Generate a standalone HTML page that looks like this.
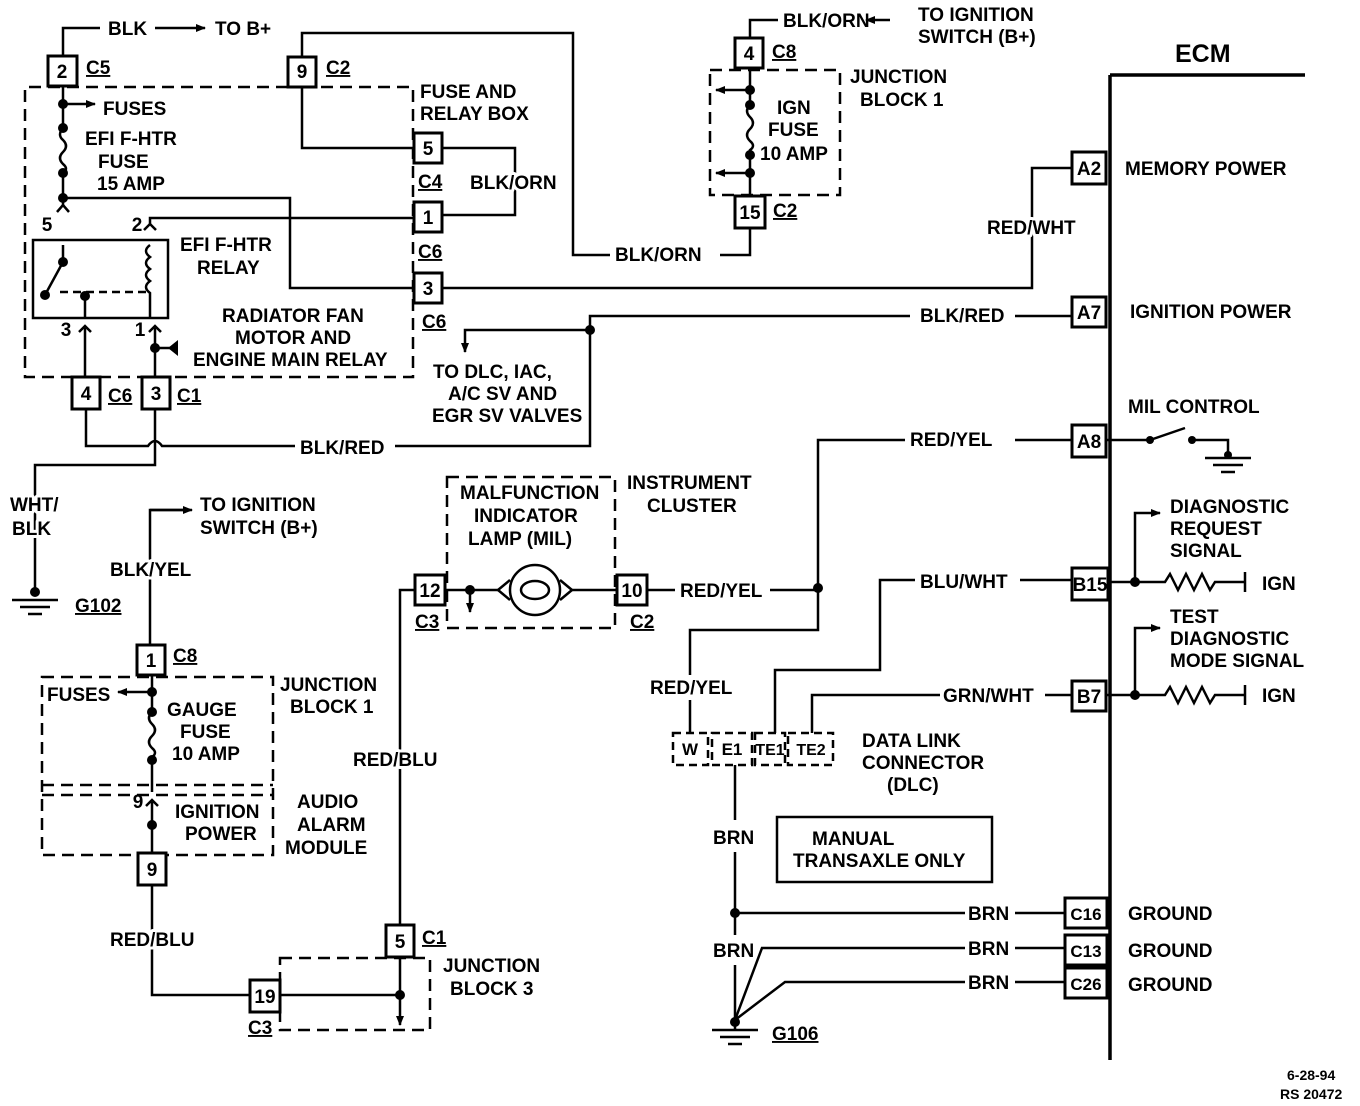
<!DOCTYPE html>
<html><head><style>
html,body{margin:0;padding:0;background:#fff}
svg{display:block}
text{font-family:"Liberation Sans",sans-serif;font-weight:bold;font-size:19px;fill:#000}
.h{stroke:#fff;stroke-width:6px;paint-order:stroke;stroke-linejoin:round}
.u{text-decoration:underline}
</style></head><body>
<svg width="1360" height="1106" viewBox="0 0 1360 1106" xmlns="http://www.w3.org/2000/svg">
<defs>
<marker id="ar" markerWidth="10" markerHeight="8" refX="9" refY="4" orient="auto" markerUnits="userSpaceOnUse"><path d="M0,0 L10,4 L0,8 z" fill="#000"/></marker>
</defs>
<g stroke="#000" stroke-width="2.5" fill="none">
<path d="M1110 75 V1060 M1110 75 H1305" stroke-width="3.5"/>
<path d="M63 55 V28 H100"/>
<path d="M155 28 H205" marker-end="url(#ar)"/>
<path d="M302 57 V33 H573 V255 H610"/>
<path d="M302 87 V148 H414"/>
<path d="M442 148 H515 V215 H442"/>
<path d="M288 87 H25 V377 H413 V87 H316" stroke-dasharray="12,7"/>
<path d="M63 87 V128"/>
<path d="M63 104 H95" marker-end="url(#ar)"/>
<path d="M63 128 q-6 7 0 12 q6 6 0 12 q-6 6 0 12 q6 5 0 9 V205"/>
<path d="M63 198 H290 V288 H414"/>
<path d="M150 225 V218 H414"/>
<path d="M57 212 L63 205 L69 212 M144 230 L150 224 L156 230"/>
<rect x="33" y="240" width="135" height="78"/>
<path d="M45 295 L63 262 M150 245 q-8 6 0 12 q-8 6 0 12 q-8 6 0 12 q-8 6 0 12 V318" />
<path d="M63 245 V262 M85 298 V318" />
<path d="M60 292 H150" stroke-dasharray="8,5"/>
<path d="M79 332 L85 326 L91 332 M149 332 L155 326 L161 332"/>
<path d="M85 328 V377 M155 328 V377"/>
<path d="M155 348 H178" />
<path d="M86 409 V446 H148 q7 -10 14 0 H295 M395 446 H590 V316 H910 M1015 316 H1072"/>
<path d="M590 330 H465 V352" marker-end="url(#ar)"/>
<path d="M155 409 V465 H35 V590"/>
<path d="M442 288 H1032 V168 H1072"/>
<path d="M720 255 H750 V228"/>
<path d="M750 38 V20 H778"/>
<path d="M890 20 H866" marker-end="url(#ar)"/>
<path d="M710 70 H840 V195 H710 Z" stroke-dasharray="12,7"/>
<path d="M750 68 V105 q-6 6 0 12 q6 6 0 12 q-6 6 0 12 q6 5 0 9 V196"/>
<path d="M750 90 H716" marker-end="url(#ar)"/>
<path d="M750 173 H716" marker-end="url(#ar)"/>
<path d="M190 510 H150 V645"/>
<path d="M150 510 H192" marker-end="url(#ar)"/>
<path d="M42 677 H273 V855 H42 Z" stroke-dasharray="12,7"/>
<path d="M42 785 H273 M42 795 H273" stroke-dasharray="12,7"/>
<path d="M152 675 V712 q-6 6 0 12 q6 6 0 12 q-6 6 0 12 q6 5 0 9 V792 M146 806 L152 800 L158 806 M152 802 V853"/>
<path d="M152 692 H118" marker-end="url(#ar)"/>
<path d="M152 885 V995 H250"/>
<path d="M280 995 H400"/>
<path d="M280 958 H430 V1030 H280 Z" stroke-dasharray="12,7"/>
<path d="M400 957 V1025" marker-end="url(#ar)"/>
<path d="M400 925 V590 H417"/>
<path d="M447 477 H615 V628 H447 Z" stroke-dasharray="12,7"/>
<path d="M445 590 H498 M572 590 H617"/>
<path d="M470 590 V612" marker-end="url(#ar)"/>
<circle cx="535" cy="590" r="25"/>
<path d="M498 590 l12 -10 M498 590 l12 10 M572 590 l-12 -10 M572 590 l-12 10"/>
<ellipse cx="535" cy="590" rx="14" ry="9"/>
<path d="M647 590 H675 M770 590 H818 V440 H905 M1015 440 H1072"/>
<path d="M818 590 V630 H690 V675 M690 700 V733"/>
<path d="M673 733 H708 V765 H673 Z M712 733 H752 V765 H712 Z M755 733 H785 V765 H755 Z M788 733 H833 V765 H788 Z" stroke-dasharray="8,5"/>
<path d="M775 733 V670 H880 V580 H915 M1020 580 H1072"/>
<path d="M812 733 V695 H940 M1045 695 H1072"/>
<path d="M735 765 V820 M735 852 V935 M735 965 V1020 M735 913 H965 M1015 913 H1065"/>
<path d="M735 1020 L762 948 H965 M1015 948 H1065 M735 1020 L785 982 H965 M1015 982 H1065"/>
<rect x="777" y="817" width="215" height="65"/>
<path d="M12 600 H58 M20 607 H50 M28 614 H42"/>
<path d="M712 1030 H758 M720 1037 H750 M728 1044 H742 M735 1020 V1030"/>
<path d="M1106 440 H1150 L1185 428 M1192 440 H1228 V455 M1205 458 H1251 M1213 465 H1243 M1221 472 H1235"/>
<path d="M1106 582 H1165 l5 -8 l8 16 l8 -16 l8 16 l8 -16 l8 16 l5 -8 H1245 M1245 572 V592"/>
<path d="M1135 582 V513 H1160" marker-end="url(#ar)"/>
<path d="M1106 695 H1165 l5 -8 l8 16 l8 -16 l8 16 l8 -16 l8 16 l5 -8 H1245 M1245 685 V705"/>
<path d="M1135 695 V628 H1160" marker-end="url(#ar)"/>
</g>
<g fill="#000">
<circle cx="63" cy="104" r="5"/><circle cx="63" cy="128" r="5"/><circle cx="63" cy="173" r="5"/><circle cx="63" cy="198" r="5"/>
<circle cx="63" cy="262" r="5"/><circle cx="45" cy="295" r="5"/><circle cx="85" cy="296" r="5"/>
<circle cx="155" cy="348" r="5"/><path d="M178 340 L168 348 L178 356 Z"/>
<circle cx="590" cy="330" r="5"/>
<circle cx="750" cy="90" r="5"/><circle cx="750" cy="105" r="5"/><circle cx="750" cy="155" r="5"/><circle cx="750" cy="173" r="5"/>
<circle cx="152" cy="692" r="5"/><circle cx="152" cy="712" r="5"/><circle cx="152" cy="760" r="5"/><circle cx="152" cy="825" r="5"/>
<circle cx="400" cy="995" r="5"/><circle cx="470" cy="590" r="5"/><circle cx="818" cy="588" r="5"/>
<circle cx="735" cy="913" r="5"/><circle cx="735" cy="1022" r="5"/><circle cx="35" cy="592" r="5"/>
<circle cx="1150" cy="440" r="4"/><circle cx="1192" cy="440" r="4"/><circle cx="1228" cy="455" r="4"/>
<circle cx="1135" cy="582" r="5"/><circle cx="1135" cy="695" r="5"/>
</g>
<g stroke="#000" stroke-width="3" fill="#fff">
<rect x="48" y="56" width="29" height="30"/><rect x="288" y="57" width="28" height="30"/>
<rect x="414" y="133" width="28" height="30"/><rect x="414" y="202" width="28" height="30"/><rect x="414" y="273" width="28" height="30"/>
<rect x="72" y="377" width="28" height="32"/><rect x="142" y="377" width="28" height="32"/>
<rect x="735" y="38" width="28" height="30"/><rect x="735" y="196" width="30" height="32"/>
<rect x="137" y="645" width="28" height="30"/><rect x="138" y="853" width="28" height="32"/>
<rect x="386" y="925" width="28" height="32"/><rect x="250" y="980" width="30" height="32"/>
<rect x="415" y="575" width="30" height="30"/><rect x="617" y="575" width="30" height="30"/>
<rect x="1072" y="152" width="34" height="32"/><rect x="1072" y="297" width="34" height="30"/><rect x="1072" y="425" width="34" height="32"/>
<rect x="1072" y="568" width="36" height="32"/><rect x="1072" y="681" width="34" height="30"/>
<rect x="1065" y="898" width="42" height="30"/><rect x="1065" y="935" width="42" height="30"/><rect x="1065" y="968" width="42" height="30"/>
</g>
<g text-anchor="middle">
<text x="62" y="78">2</text><text x="302" y="78">9</text><text x="428" y="155">5</text><text x="428" y="224">1</text><text x="428" y="295">3</text>
<text x="86" y="400">4</text><text x="156" y="400">3</text><text x="749" y="60">4</text><text x="750" y="219">15</text>
<text x="151" y="667">1</text><text x="152" y="876">9</text><text x="400" y="948">5</text><text x="265" y="1003">19</text>
<text x="430" y="597">12</text><text x="632" y="597">10</text>
<text x="1089" y="175">A2</text><text x="1089" y="319">A7</text><text x="1089" y="448">A8</text><text x="1090" y="591">B15</text><text x="1089" y="703">B7</text>
<text x="1086" y="920" style="font-size:17px">C16</text><text x="1086" y="957" style="font-size:17px">C13</text><text x="1086" y="990" style="font-size:17px">C26</text>
<text x="690" y="755" style="font-size:17px">W</text><text x="732" y="755" style="font-size:17px">E1</text><text x="770" y="755" style="font-size:16px">TE1</text><text x="811" y="755" style="font-size:16px">TE2</text>
<text x="47" y="231">5</text><text x="137" y="231">2</text><text x="66" y="336">3</text><text x="140" y="336">1</text><text x="138" y="808">9</text>
</g>
<text x="86" y="74" class="u">C5</text><text x="326" y="74" class="u">C2</text><text x="418" y="188" class="u">C4</text><text x="418" y="258" class="u">C6</text><text x="422" y="328" class="u">C6</text>
<text x="108" y="402" class="u">C6</text><text x="177" y="402" class="u">C1</text><text x="772" y="58" class="u">C8</text><text x="773" y="217" class="u">C2</text>
<text x="173" y="662" class="u">C8</text><text x="422" y="944" class="u">C1</text><text x="248" y="1034" class="u">C3</text><text x="415" y="628" class="u">C3</text><text x="630" y="628" class="u">C2</text>
<text x="75" y="612" class="u">G102</text><text x="772" y="1040" class="u">G106</text>
<text x="108" y="35">BLK</text><text x="215" y="35">TO B+</text>
<text x="420" y="98">FUSE AND</text><text x="420" y="120">RELAY BOX</text>
<text x="103" y="115">FUSES</text>
<text x="85" y="145">EFI F-HTR</text><text x="98" y="168">FUSE</text><text x="97" y="190">15 AMP</text>
<text x="470" y="189" class="h">BLK/ORN</text>
<text x="180" y="251">EFI F-HTR</text><text x="197" y="274">RELAY</text>
<text x="222" y="322">RADIATOR FAN</text><text x="235" y="344">MOTOR AND</text><text x="193" y="366">ENGINE MAIN RELAY</text>
<text x="433" y="378">TO DLC, IAC,</text><text x="448" y="400">A/C SV AND</text><text x="432" y="422">EGR SV VALVES</text>
<text x="300" y="454">BLK/RED</text><text x="920" y="322">BLK/RED</text>
<text x="615" y="261">BLK/ORN</text><text x="987" y="234" class="h">RED/WHT</text>
<text x="783" y="27">BLK/ORN</text><text x="918" y="21">TO IGNITION</text><text x="918" y="43">SWITCH (B+)</text>
<text x="850" y="83">JUNCTION</text><text x="860" y="106">BLOCK 1</text>
<text x="777" y="114">IGN</text><text x="768" y="136">FUSE</text><text x="760" y="160">10 AMP</text>
<text x="1175" y="62" style="font-size:25px">ECM</text>
<text x="1125" y="175">MEMORY POWER</text><text x="1130" y="318">IGNITION POWER</text><text x="1128" y="413">MIL CONTROL</text>
<text x="1170" y="513">DIAGNOSTIC</text><text x="1170" y="535">REQUEST</text><text x="1170" y="557">SIGNAL</text>
<text x="1262" y="590">IGN</text>
<text x="1170" y="623">TEST</text><text x="1170" y="645">DIAGNOSTIC</text><text x="1170" y="667">MODE SIGNAL</text>
<text x="1262" y="702">IGN</text>
<text x="1128" y="920">GROUND</text><text x="1128" y="957">GROUND</text><text x="1128" y="991">GROUND</text>
<text x="910" y="446">RED/YEL</text><text x="920" y="588">BLU/WHT</text><text x="943" y="702">GRN/WHT</text>
<text x="968" y="920">BRN</text><text x="968" y="955">BRN</text><text x="968" y="989">BRN</text>
<text x="713" y="844">BRN</text><text x="713" y="957">BRN</text>
<text x="812" y="845">MANUAL</text><text x="793" y="867">TRANSAXLE ONLY</text>
<text x="862" y="747">DATA LINK</text><text x="862" y="769">CONNECTOR</text><text x="887" y="791">(DLC)</text>
<text x="650" y="694" class="h">RED/YEL</text><text x="680" y="597">RED/YEL</text>
<text x="460" y="499">MALFUNCTION</text><text x="474" y="522">INDICATOR</text><text x="468" y="545">LAMP (MIL)</text>
<text x="627" y="489">INSTRUMENT</text><text x="647" y="512">CLUSTER</text>
<text x="10" y="511" class="h">WHT/</text><text x="12" y="535" class="h">BLK</text>
<text x="200" y="511">TO IGNITION</text><text x="200" y="534">SWITCH (B+)</text>
<text x="110" y="576" class="h">BLK/YEL</text>
<text x="280" y="691">JUNCTION</text><text x="290" y="713">BLOCK 1</text>
<text x="47" y="701">FUSES</text>
<text x="167" y="716">GAUGE</text><text x="180" y="738">FUSE</text><text x="172" y="760">10 AMP</text>
<text x="175" y="818">IGNITION</text><text x="185" y="840">POWER</text>
<text x="297" y="808">AUDIO</text><text x="297" y="831">ALARM</text><text x="285" y="854">MODULE</text>
<text x="353" y="766" class="h">RED/BLU</text><text x="110" y="946" class="h">RED/BLU</text>
<text x="443" y="972">JUNCTION</text><text x="450" y="995">BLOCK 3</text>
<text x="1287" y="1080" style="font-size:14px">6-28-94</text><text x="1280" y="1099" style="font-size:14px">RS 20472</text>
</svg>
</body></html>
